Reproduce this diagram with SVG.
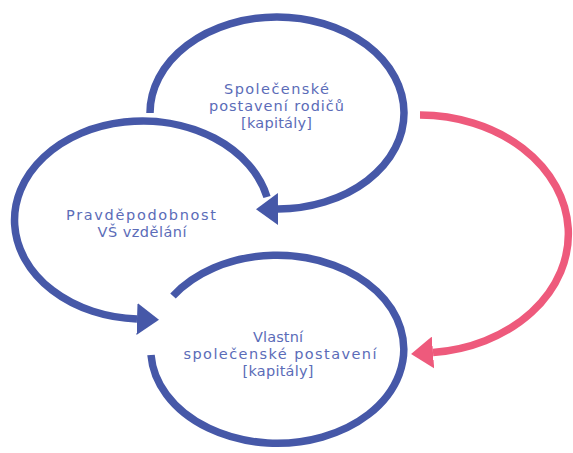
<svg xmlns="http://www.w3.org/2000/svg" width="573" height="453" viewBox="0 0 573 453">
  <style>
    .blue { fill: none; stroke: #4658a8; stroke-width: 7.5; stroke-linecap: butt; }
    .pink { fill: none; stroke: #ee5a7c; stroke-width: 7.5; stroke-linecap: butt; }
    .lbl { font-family: "DejaVu Sans", "Liberation Sans", sans-serif; font-size: 14.5px; fill: #5b6cb8; text-anchor: middle; }
  </style>
  <defs>
    <marker id="ahBlue" viewBox="0 0 22 32" refX="0" refY="16" markerWidth="22" markerHeight="32" markerUnits="userSpaceOnUse" orient="auto">
      <path d="M0,0 L22,16 L0,32 Z" fill="#4658a8"/>
    </marker>
    <marker id="ahPink" viewBox="0 0 22 32" refX="0" refY="16" markerWidth="22" markerHeight="32" markerUnits="userSpaceOnUse" orient="auto">
      <path d="M0,0 L22,16 L0,32 Z" fill="#ee5a7c"/>
    </marker>
  </defs>

  <g id="connectors">
    <path id="c-parents-to-prob" class="blue" d="M 150 113 A 127 96 0 1 1 278 209" marker-end="url(#ahBlue)"/>
    <path id="c-prob-to-own" class="blue" d="M 267 197 A 128 99 0 1 0 137 319" marker-end="url(#ahBlue)"/>
    <path id="c-parents-to-own" class="pink" d="M 420 115 A 149 119 0 0 1 433 352.5" marker-end="url(#ahPink)"/>
  </g>

  <g id="node-parents">
    <text class="lbl" x="276.5" y="94" textLength="105" lengthAdjust="spacing">Společenské</text>
    <text class="lbl" x="276.5" y="111" textLength="135" lengthAdjust="spacing">postavení rodičů</text>
    <text class="lbl" x="276.5" y="128" textLength="71" lengthAdjust="spacing">[kapitály]</text>
  </g>

  <g id="node-probability">
    <text class="lbl" x="141" y="220" textLength="150" lengthAdjust="spacing">Pravděpodobnost</text>
    <text class="lbl" x="142" y="237" textLength="89" lengthAdjust="spacing">VŠ vzdělání</text>
  </g>

  <g id="node-own">
    <path class="blue" d="M 151 355 A 126.5 94 0 1 0 173 296"/>
    <text class="lbl" x="278" y="342" textLength="50" lengthAdjust="spacing">Vlastní</text>
    <text class="lbl" x="280" y="359" textLength="193" lengthAdjust="spacing">společenské postavení</text>
    <text class="lbl" x="278" y="376" textLength="71" lengthAdjust="spacing">[kapitály]</text>
  </g>
</svg>
